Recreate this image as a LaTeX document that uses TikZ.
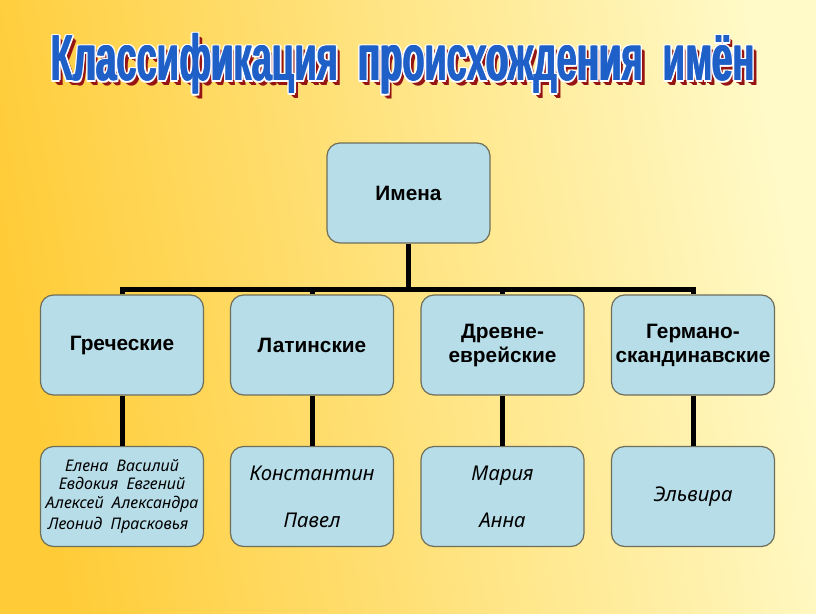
\documentclass[tikz,border=0pt]{standalone}
\usepackage{fontspec}
\setmainfont{Liberation Sans}
\newfontfamily\cursfont{Noto Sans}
\usetikzlibrary{calc}
\definecolor{bgL}{RGB}{255,204,55}
\definecolor{bgR}{RGB}{255,250,200}
\definecolor{boxfill}{RGB}{183,221,232}
\definecolor{boxline}{RGB}{110,110,90}
\definecolor{titleblue}{RGB}{30,95,200}
\definecolor{titleshadow}{RGB}{150,20,20}
\tikzset{
  box/.style={draw=boxline, line width=1.2pt, fill=boxfill, rounded corners=13pt,
    minimum width=163pt, minimum height=100pt, align=center, inner sep=2pt},
  head/.style={box, font=\fontsize{20.8}{24}\selectfont\bfseries},
  leaf/.style={box, font=\cursfont\fontsize{20.3}{23}\selectfont\itshape},
  conn/.style={line width=5pt, draw=black, line join=miter},
  ttl/.style={font=\fontsize{65}{65}\selectfont\bfseries, inner sep=0pt}
}
\newcommand{\ttltext}{\scalebox{0.56}[1]{Классификация\ \ происхождения\ \ имён}}
\begin{document}
\begin{tikzpicture}[x=1pt,y=-1pt]
\useasboundingbox (0,0) rectangle (816,613);
\shade[left color=bgL, right color=bgR, shading angle=100] (0,0) rectangle (816,613);
% title
\foreach \dx [count=\i] in {2.2,3.4,4.4}
  \node[ttl, text=titleshadow] (tsh\i) at (403+\dx,64+\dx) {\ttltext};
\foreach \dx/\dy [count=\i] in {2.2/0,-2.2/0,0/1.8,0/-1.8,1.6/1.4,-1.6/1.4,1.6/-1.4,-1.6/-1.4}
  \node[ttl, text=white] (tw\i) at (403+\dx,64+\dy) {\ttltext};
\foreach \dx [count=\i] in {-0.6,0.6}
  \node[ttl, text=titleblue] (tb\i) at (403+\dx,64) {\ttltext};
\node[ttl, text=titleblue] (title) at (403,64) {\ttltext};
% nodes
\node[head] (root) at (408.5,193) {Имена};
\node[head] (gr) at (122,345) {Греческие};
\node[head] (la) at (312,345) {Латинские};
\node[head] (he) at (502.5,345) {Древне-\\еврейские};
\node[head] (ge) at (693,345) {Германо-\\скандинавские};
\node[leaf, font=\cursfont\fontsize{16}{18.5}\selectfont\itshape] (grn) at (122,496.5) {Елена\ \ Василий\\Евдокия\ \ Евгений\\Алексей\ \ Александра\\[3pt]\hspace*{-8pt}Леонид\ \ Прасковья};
\node[leaf] (lan) at (312,496.5) {Константин\\[24pt]Павел};
\node[leaf] (hen) at (502.5,496.5) {Мария\\[24pt]Анна};
\node[leaf] (gen) at (693,496.5) {Эльвира};
% connectors
\coordinate (bus) at (408.5,289);
\draw[conn] (root.south) -- (root.south |- bus);
\draw[conn] (gr.north) -- (gr.north |- bus) -- (ge.north |- bus) -- (ge.north);
\draw[conn] (la.north) -- (la.north |- bus);
\draw[conn] (he.north) -- (he.north |- bus);
\draw[conn] (gr.south) -- (grn.north);
\draw[conn] (la.south) -- (lan.north);
\draw[conn] (he.south) -- (hen.north);
\draw[conn] (ge.south) -- (gen.north);
\end{tikzpicture}
\end{document}
